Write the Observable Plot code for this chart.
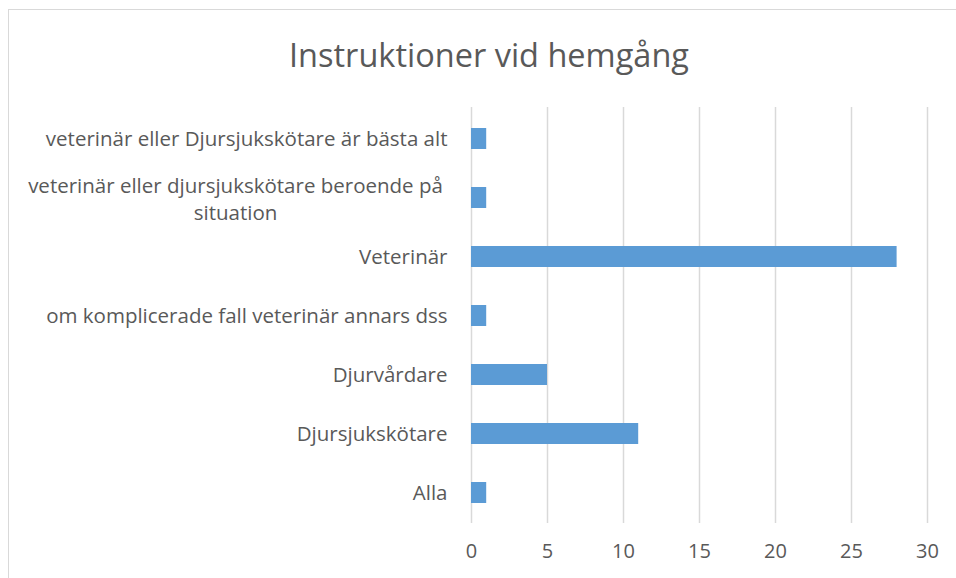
<!DOCTYPE html>
<html><head><meta charset="utf-8">
<script src="https://cdn.jsdelivr.net/npm/d3@7"></script>
<script src="https://cdn.jsdelivr.net/npm/@observablehq/plot@0.6"></script>
<style>
body{margin:0;background:#fff;}
#wrap{position:relative;width:956px;height:578px;overflow:hidden;font-family:"Open Sans",sans-serif;background:#fff;}
#frame{position:absolute;left:8px;top:9px;width:1000px;height:1000px;border-left:1.5px solid #d9d9d9;border-top:1.5px solid #d9d9d9;}
#title{position:absolute;left:0;width:978px;top:35px;text-align:center;font-size:32.5px;color:#595959;line-height:1.2;}
#chart{position:absolute;left:0;top:100px;}
</style></head>
<body>
<div id="wrap"><div id="frame"></div><div id="title">Instruktioner vid hemgång</div><div id="chart"></div></div>
<script>
const title = "Instruktioner vid hemgång";
const categories = [
  "veterinär eller Djursjukskötare är bästa alt",
  "veterinär eller djursjukskötare beroende på situation",
  "Veterinär",
  "om komplicerade fall veterinär annars dss",
  "Djurvårdare",
  "Djursjukskötare",
  "Alla"
];
const values = [1, 1, 28, 1, 5, 11, 1];
const xTicks = [0, 5, 10, 15, 20, 25, 30];
const wrappedCategory = "veterinär eller djursjukskötare beroende på situation";
const wrappedLabel = "veterinär eller djursjukskötare beroende på\nsituation";

const data = categories.map((c, i) => ({cat: c, value: values[i]}));
const textColor = "#595959";

const chart = Plot.plot({
  width: 956,
  height: 478,
  marginTop: 7,
  marginBottom: 55,
  marginLeft: 471,
  marginRight: 29,
  style: {fontFamily: '"Open Sans", sans-serif', background: "transparent"},
  x: {domain: [0, 30]},
  y: {domain: categories, paddingInner: 0.645, paddingOuter: 0.32},
  marks: [
    Plot.gridX(xTicks, {stroke: "#d9d9d9", strokeOpacity: 1, strokeWidth: 1.5}),
    Plot.barX(data, {x: "value", y: "cat", fill: "#5b9bd5"}),
    Plot.axisX({ticks: xTicks, tickSize: 0, tickPadding: 20, fontSize: 20, fill: textColor, label: null}),
    Plot.axisY({tickSize: 0, tickPadding: 24, fontSize: 20.5, fill: textColor, label: null,
      tickFormat: d => d === wrappedCategory ? "" : d}),
    Plot.text([wrappedCategory], {y: d => d, text: () => wrappedLabel, frameAnchor: "left", dx: -236,
      textAnchor: "middle", lineHeight: 1.32, fontSize: 20.5, fill: textColor})
  ]
});
document.getElementById("chart").appendChild(chart);
</script>
</body></html>
